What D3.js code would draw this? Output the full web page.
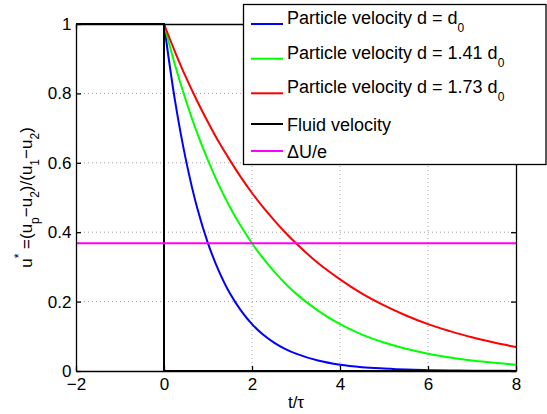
<!DOCTYPE html>
<html>
<head>
<meta charset="utf-8">
<script src="https://cdn.jsdelivr.net/npm/d3@7"></script>
<style>
  body { margin: 0; background: #fff; }
  svg { display: block; }
</style>
</head>
<body>
<div id="chart"></div>
<script>
// time axis (t/tau) shared by the three particle curves
const tValues = [-2, 0, 0.25, 0.5, 0.75, 1, 1.25, 1.5, 1.75, 2, 2.25, 2.5, 2.75, 3, 3.5, 4, 4.5, 5, 5.5, 6, 6.5, 7, 7.5, 8];
// u* for each particle size
const uD0   = [1, 1, 0.779, 0.607, 0.472, 0.368, 0.287, 0.223, 0.174, 0.135, 0.105, 0.082, 0.064, 0.050, 0.030, 0.018, 0.011, 0.007, 0.004, 0.0025, 0.0015, 0.0009, 0.0006, 0.0003];
const uD141 = [1, 1, 0.882, 0.779, 0.687, 0.607, 0.535, 0.472, 0.417, 0.368, 0.325, 0.287, 0.253, 0.223, 0.174, 0.135, 0.105, 0.082, 0.064, 0.050, 0.039, 0.030, 0.024, 0.018];
const uD173 = [1, 1, 0.920, 0.846, 0.779, 0.717, 0.659, 0.607, 0.558, 0.513, 0.472, 0.435, 0.400, 0.368, 0.311, 0.264, 0.223, 0.189, 0.160, 0.135, 0.115, 0.097, 0.082, 0.069];
// fluid velocity: step at t = 0
const fluidT = [-2, 0, 0, 8];
const fluidU = [1, 1, 0, 0];
// ΔU/e level
const thresholdT = [-2, 8];
const thresholdU = [0.368, 0.368];

const xTicks = [-2, 0, 2, 4, 6, 8];
const yTicks = [0, 0.2, 0.4, 0.6, 0.8, 1];

const legendText = ["Particle velocity d = d", "Particle velocity d = 1.41 d", "Particle velocity d = 1.73 d", "Fluid velocity", "\u0394U/e"];
const legendSub  = ["0", "0", "0", "", ""];
const colors = ["#0000ff", "#00ff00", "#ff0000", "#000000", "#ff00ff"];

const width = 547, height = 414;
const margin = {top: 24, right: 31, bottom: 43, left: 76};
const font = "'Liberation Sans', Arial, Helvetica, sans-serif";

const svg = d3.select("#chart")
    .append("svg")
    .attr("width", width)
    .attr("height", height);

const xScale = d3.scaleLinear()
    .domain([-2, 8])
    .range([margin.left, width - margin.right]);

const yScale = d3.scaleLinear()
    .domain([0, 1])
    .range([height - margin.bottom, margin.top]);

// dotted grid
const grid = svg.append("g")
    .attr("stroke", "#888")
    .attr("stroke-width", 0.8)
    .attr("stroke-dasharray", "1,3");
grid.selectAll(".gx")
    .data(xTicks.slice(1, -1))
    .join("line")
    .attr("x1", d => xScale(d)).attr("x2", d => xScale(d))
    .attr("y1", yScale(0)).attr("y2", yScale(1));
grid.selectAll(".gy")
    .data(yTicks.slice(1, -1))
    .join("line")
    .attr("x1", xScale(-2)).attr("x2", xScale(8))
    .attr("y1", d => yScale(d)).attr("y2", d => yScale(d));

const line = d3.line()
    .x(d => xScale(d[0]))
    .y(d => yScale(d[1]));

const smooth = d3.line()
    .x(d => xScale(d[0]))
    .y(d => yScale(d[1]))
    .curve(d3.curveCatmullRom.alpha(0.5));

// particle curves: flat part before t=0, smooth decay after
[uD0, uD141, uD173].forEach((u, i) => {
    const pts = tValues.map((t, j) => [t, u[j]]);
    svg.append("path")
        .datum(pts.filter(d => d[0] <= 0))
        .attr("fill", "none")
        .attr("stroke", colors[i])
        .attr("stroke-width", 2)
        .attr("d", line);
    svg.append("path")
        .datum(pts.filter(d => d[0] >= 0))
        .attr("fill", "none")
        .attr("stroke", colors[i])
        .attr("stroke-width", 2)
        .attr("d", smooth);
});

svg.append("path")
    .datum(fluidT.map((t, j) => [t, fluidU[j]]))
    .attr("fill", "none")
    .attr("stroke", colors[3])
    .attr("stroke-width", 2)
    .attr("d", line);

svg.append("path")
    .datum(thresholdT.map((t, j) => [t, thresholdU[j]]))
    .attr("fill", "none")
    .attr("stroke", colors[4])
    .attr("stroke-width", 2)
    .attr("d", line);

// axes box with inward ticks
const xAxis = d3.axisBottom(xScale).tickValues(xTicks).tickSizeInner(-5).tickSizeOuter(0).tickPadding(7);
const yAxis = d3.axisLeft(yScale).tickValues(yTicks).tickSizeInner(-5).tickSizeOuter(0).tickPadding(4.5)
    .tickFormat(d3.format("~g"));
const xAxisTop = d3.axisTop(xScale).tickValues(xTicks).tickSizeInner(-5).tickSizeOuter(0).tickFormat("");
const yAxisRight = d3.axisRight(yScale).tickValues(yTicks).tickSizeInner(-5).tickSizeOuter(0).tickFormat("");

[
    [xAxis, `translate(0,${yScale(0)})`],
    [yAxis, `translate(${xScale(-2)},0)`],
    [xAxisTop, `translate(0,${yScale(1)})`],
    [yAxisRight, `translate(${xScale(8)},0)`]
].forEach(([ax, tr]) => {
    const g = svg.append("g").attr("transform", tr).call(ax);
    g.selectAll("path, line").attr("stroke", "#000").attr("stroke-width", 1.3);
    g.selectAll("text")
        .attr("font-family", font)
        .attr("font-size", 17)
        .attr("fill", "#000");
});

// x label
svg.append("text")
    .attr("x", (xScale(-2) + xScale(8)) / 2)
    .attr("y", 408)
    .attr("text-anchor", "middle")
    .attr("font-family", font)
    .attr("font-size", 17)
    .text("t/\u03c4");

// y label with super/subscripts
const yLabel = svg.append("text")
    .attr("transform", `translate(32,${(yScale(0) + yScale(1)) / 2}) rotate(-90)`)
    .attr("text-anchor", "middle")
    .attr("font-family", font)
    .attr("font-size", 17);
const parts = [
    ["u", 0], ["*", -9], [" =(u", 0], ["p", 7], ["\u2212u", 0], ["2", 7],
    [")/(u", 0], ["1", 7], ["\u2212u", 0], ["2", 7], [")", 0]
];
let shift = 0;
parts.forEach(([txt, off]) => {
    yLabel.append("tspan")
        .attr("dy", off - shift)
        .attr("font-size", off === 0 ? 17 : 12)
        .text(txt);
    shift = off;
});

// legend
const legend = svg.append("g");
legend.append("rect")
    .attr("x", 243.5).attr("y", 4.5)
    .attr("width", 302.5).attr("height", 160)
    .attr("fill", "#fff")
    .attr("stroke", "#000")
    .attr("stroke-width", 1.3);

const legendY = [24, 58.7, 93.3, 124, 151];
legendText.forEach((txt, i) => {
    legend.append("line")
        .attr("x1", 251).attr("x2", 283)
        .attr("y1", legendY[i]).attr("y2", legendY[i])
        .attr("stroke", colors[i])
        .attr("stroke-width", 2);
    const t = legend.append("text")
        .attr("x", 287)
        .attr("y", legendSub[i] ? legendY[i] : legendY[i] + 6.5)
        .attr("font-family", font)
        .attr("font-size", 18)
        .attr("fill", "#000");
    t.append("tspan").text(txt);
    if (legendSub[i]) {
        t.append("tspan")
            .attr("dy", 8)
            .attr("font-size", 12)
            .text(legendSub[i]);
    }
});
</script>
</body>
</html>
